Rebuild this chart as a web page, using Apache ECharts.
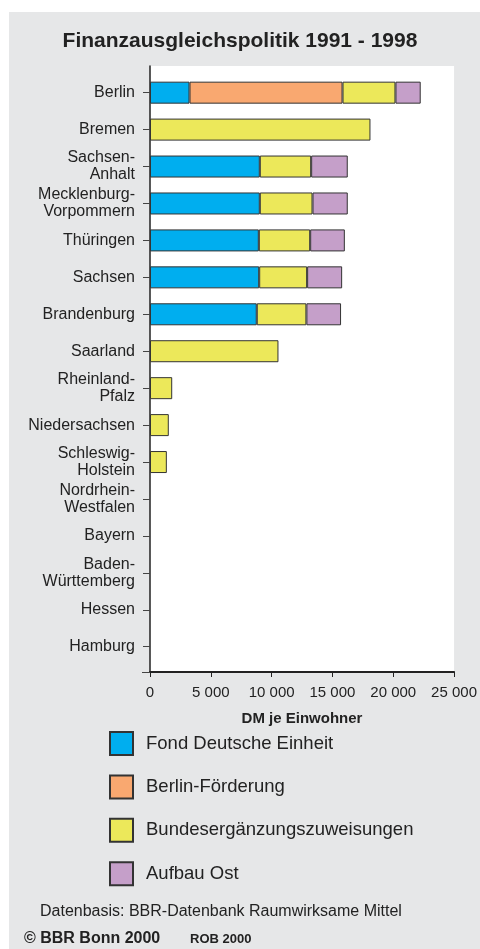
<!DOCTYPE html>
<html>
<head>
<meta charset="utf-8">
<script src="https://cdn.jsdelivr.net/npm/echarts@6/dist/echarts.min.js"></script>
<style>
html,body{margin:0;padding:0;background:#fff;}
#chart{width:480px;height:949px;}
</style>
</head>
<body>
<div id="chart"></div>
<script>
var categories = ['Berlin','Bremen','Sachsen-\nAnhalt','Mecklenburg-\nVorpommern','Thüringen','Sachsen','Brandenburg','Saarland','Rheinland-\nPfalz','Niedersachsen','Schleswig-\nHolstein','Nordrhein-\nWestfalen','Bayern','Baden-\nWürttemberg','Hessen','Hamburg'];
var fondDeutscheEinheit = [3240, null, 9000, 9000, 8920, 8950, 8750, null, null, null, null, null, null, null, null, null];
var berlinFoerderung = [12540, null, null, null, null, null, null, null, null, null, null, null, null, null, null, null];
var bundesergaenzung = [4340, 18070, 4210, 4320, 4210, 3930, 4070, 10530, 1820, 1540, 1380, null, null, null, null, null];
var aufbauOst = [2070, null, 3000, 2890, 2840, 2870, 2840, null, null, null, null, null, null, null, null, null];
var seriesNames = ['Fond Deutsche Einheit','Berlin-Förderung','Bundesergänzungszuweisungen','Aufbau Ost'];
var xTicks = [0, 5000, 10000, 15000, 20000, 25000];

var colors = ['#00aeef', '#f9a870', '#ece85a', '#c59fc9'];
var FONT = 'Liberation Sans, Arial, Helvetica, sans-serif';
var chart = echarts.init(document.getElementById('chart'), null, {renderer: 'canvas'});

function fmt(v){ return String(v).replace(/\B(?=(\d{3})+(?!\d))/g, ' '); }

var dataSets = [fondDeutscheEinheit, berlinFoerderung, bundesergaenzung, aufbauOst];
var series = dataSets.map(function(d, i){
  return {
    name: seriesNames[i], type: 'bar', stack: 'total', xAxisIndex: 1, yAxisIndex: 1,
    barWidth: 22, data: d,
    itemStyle: {color: colors[i], borderColor: '#333', borderWidth: 1},
    emphasis: {disabled: true}, animation: false
  };
});

chart.setOption({
  backgroundColor: '#ffffff',
  animation: false,
  title: {
    text: 'Finanzausgleichspolitik 1991 - 1998', left: 'center', top: 26,
    textStyle: {fontFamily: FONT, fontSize: 21, fontWeight: 'bold', color: '#222'}
  },
  graphic: [
    {type: 'rect', z: -10, shape: {x: 9, y: 12, width: 471, height: 937}, style: {fill: '#e6e7e8'}},
    {type: 'text', left: 40, top: 904, style: {text: 'Datenbasis: BBR-Datenbank Raumwirksame Mittel', font: '16px ' + FONT, fill: '#222'}},
    {type: 'text', left: 24, top: 931, style: {text: '© BBR Bonn 2000', font: 'bold 16px ' + FONT, fill: '#222'}},
    {type: 'text', left: 190, top: 933, style: {text: 'ROB 2000', font: 'bold 13px ' + FONT, fill: '#222'}}
  ],
  legend: {
    orient: 'vertical', left: 109, top: 731, padding: 0, itemWidth: 23, itemHeight: 23, itemGap: 18.4,
    icon: 'rect', selectedMode: false,
    textStyle: {fontFamily: FONT, fontSize: 18.5, color: '#222', padding: [0, 0, 0, 8]},
    data: seriesNames
  },
  grid: [
    {left: 150, top: 66, width: 305, height: 606, show: true, backgroundColor: '#ffffff', borderWidth: 0},
    {left: 150, top: 74.2, width: 305, height: 591}
  ],
  xAxis: [
    {type: 'value', gridIndex: 0, min: 0, max: 25000, interval: 5000,
     axisLine: {show: true, lineStyle: {color: '#222', width: 2}},
     axisTick: {show: true, length: 5, lineStyle: {color: '#222', width: 1}},
     axisLabel: {fontFamily: FONT, fontSize: 15, color: '#222', margin: 13, formatter: function(v){ return fmt(v); }},
     splitLine: {show: false},
     name: 'DM je Einwohner', nameLocation: 'middle', nameGap: 39,
     nameTextStyle: {fontFamily: FONT, fontSize: 15, fontWeight: 'bold', color: '#222'}
    },
    {type: 'value', gridIndex: 1, min: 0, max: 25000, interval: 5000, show: false}
  ],
  yAxis: [
    {type: 'value', gridIndex: 0, min: 0, max: 1, interval: 1,
     axisLine: {show: true, lineStyle: {color: '#222', width: 1.5}},
     axisTick: {show: true, length: 8, customValues: [0], lineStyle: {color: '#444'}},
     axisLabel: {show: false}, splitLine: {show: false}},
    {type: 'category', gridIndex: 1, data: categories, inverse: true,
     axisLine: {show: false},
     axisTick: {show: true, alignWithLabel: true, length: 7, lineStyle: {color: '#444'}},
     axisLabel: {fontFamily: FONT, fontSize: 16, color: '#222', margin: 15, lineHeight: 17, align: 'right'}
    }
  ],
  series: series
});
</script>
</body>
</html>
